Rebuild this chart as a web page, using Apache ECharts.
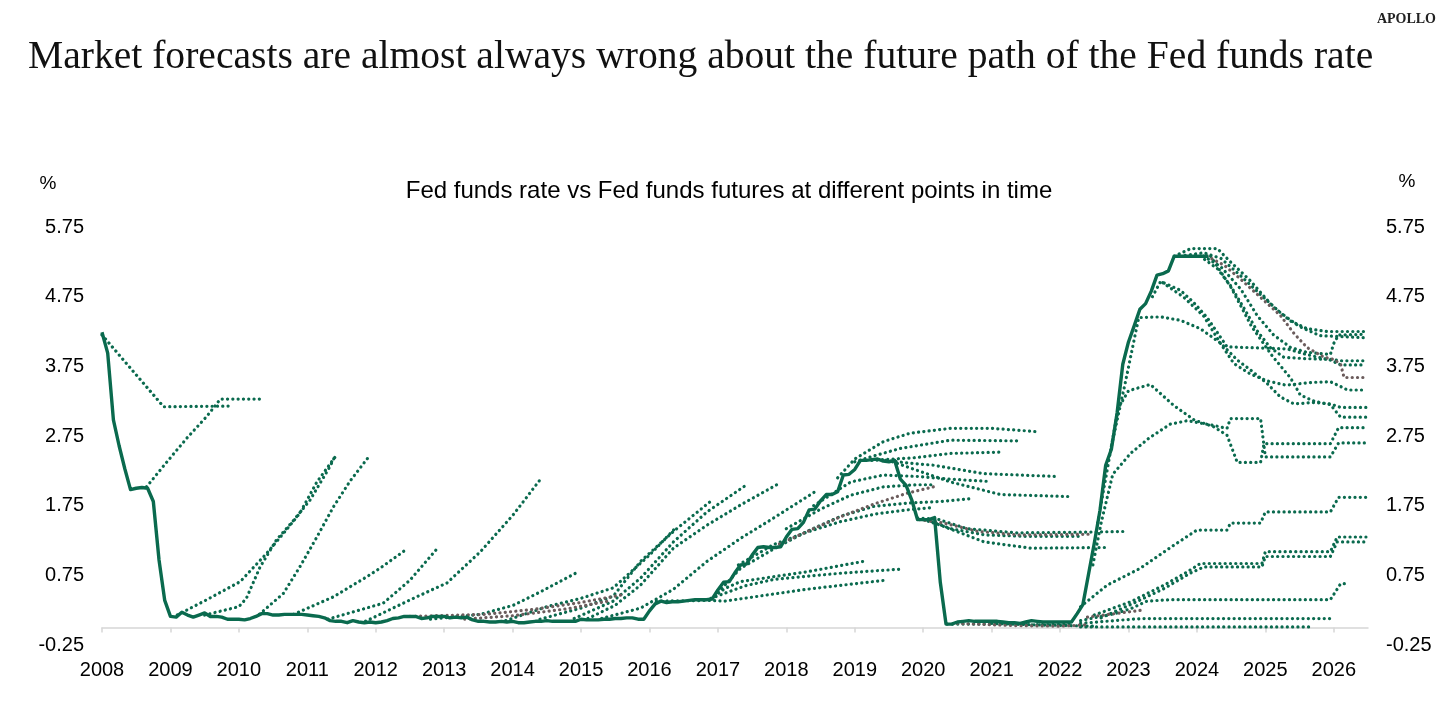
<!DOCTYPE html>
<html>
<head>
<meta charset="utf-8">
<script src="https://cdn.jsdelivr.net/npm/echarts@6/dist/echarts.min.js"></script>
<style>
html,body{margin:0;padding:0;background:#fff;}
#chart{width:1456px;height:725px;}
</style>
</head>
<body>
<div id="chart"></div>
<script>
// ---------- DATA ----------
const xTickLabels = [2008,2009,2010,2011,2012,2013,2014,2015,2016,2017,2018,2019,2020,2021,2022,2023,2024,2025,2026];
const yTickLabels = [-0.25,0.75,1.75,2.75,3.75,4.75,5.75];

// Effective Fed funds rate, monthly, first value plotted at 2008.0
const effrStartYear = 2008;
const effrMonthly = [
  4.24,
  3.94,2.98,2.61,2.28,1.98,2.00,2.01,2.00,1.81,0.97,0.39,0.16,
  0.15,0.22,0.18,0.15,0.18,0.21,0.16,0.16,0.15,0.12,0.12,0.12,
  0.11,0.13,0.16,0.20,0.20,0.18,0.18,0.19,0.19,0.19,0.19,0.18,
  0.17,0.16,0.14,0.10,0.09,0.09,0.07,0.10,0.08,0.07,0.08,0.07,
  0.08,0.10,0.13,0.14,0.16,0.16,0.16,0.13,0.14,0.16,0.16,0.16,
  0.14,0.15,0.14,0.15,0.11,0.09,0.09,0.08,0.08,0.09,0.08,0.09,
  0.07,0.07,0.08,0.09,0.09,0.10,0.09,0.09,0.09,0.09,0.09,0.12,
  0.11,0.11,0.11,0.12,0.12,0.13,0.13,0.14,0.14,0.12,0.12,0.24,
  0.34,0.38,0.36,0.37,0.37,0.38,0.39,0.40,0.40,0.40,0.41,0.54,
  0.65,0.66,0.79,0.90,0.91,1.04,1.15,1.16,1.15,1.15,1.16,1.30,
  1.41,1.42,1.51,1.69,1.70,1.82,1.91,1.91,1.95,2.19,2.20,2.27,
  2.40,2.40,2.41,2.42,2.39,2.38,2.40,2.13,2.04,1.83,1.55,1.55,
  1.55,1.58,0.65,0.05,0.05,0.08,0.09,0.10,0.09,0.09,0.09,0.09,
  0.09,0.08,0.07,0.07,0.06,0.08,0.10,0.09,0.08,0.08,0.08,0.08,
  0.08,0.08,0.20,0.33,0.77,1.21,1.68,2.33,2.56,3.08,3.78,4.10,
  4.33,4.57,4.65,4.83,5.06,5.08,5.12,5.33,5.33,5.33,5.33,5.33,
  5.33,5.33
];

// Fed funds futures curves: [year, rate]
const futures2008 = [
  [[2008.0,4.20],[2008.9,3.17],[2009.87,3.18]],
  [[2008.65,2.02],[2008.95,2.38],[2009.24,2.72],[2009.53,3.03],[2009.73,3.28],[2010.36,3.28]]
];
const futures2009to2014 = [
  [[2009.1,0.18],[2009.53,0.40],[2010.02,0.66],[2010.41,1.07],[2010.65,1.35],[2010.89,1.64],[2011.14,2.09],[2011.43,2.48]],
  [[2009.5,0.18],[2010.0,0.30],[2010.11,0.42],[2010.31,0.87],[2010.55,1.26],[2010.8,1.54],[2011.04,1.83],[2011.33,2.31],[2011.4,2.45]],
  [[2010.3,0.19],[2010.65,0.49],[2010.89,0.87],[2011.14,1.30],[2011.38,1.73],[2011.63,2.11],[2011.92,2.48]],
  [[2010.8,0.19],[2011.38,0.44],[2011.87,0.73],[2012.06,0.85],[2012.43,1.11]],
  [[2011.3,0.12],[2012.11,0.35],[2012.5,0.68],[2012.92,1.16]],
  [[2011.85,0.09],[2012.55,0.42],[2013.04,0.64],[2013.53,1.09],[2014.01,1.62],[2014.40,2.12]],
  [[2012.8,0.12],[2013.53,0.19],[2014.01,0.32],[2014.40,0.51],[2014.92,0.78]]
];
const futures2014to2018 = [
  [[2013.9,0.10],[2014.5,0.30],[2015.0,0.42],[2015.47,0.57],[2016.0,1.04],[2016.4,1.45]],
  [[2014.4,0.12],[2015.0,0.28],[2015.47,0.45],[2015.87,0.95],[2016.35,1.38],[2016.89,1.81]],
  [[2014.9,0.13],[2015.47,0.38],[2015.87,0.71],[2016.35,1.23],[2016.84,1.66],[2017.42,2.05]],
  [[2015.1,0.13],[2015.5,0.32],[2015.87,0.61],[2016.35,1.14],[2016.84,1.47],[2017.33,1.76],[2017.86,2.05]],
  [[2015.3,0.13],[2015.87,0.28],[2016.35,0.55],[2016.84,0.95],[2017.33,1.28],[2017.81,1.57],[2018.42,1.95]]
];
const futures2017to2020 = [
  [[2016.95,0.45],[2017.33,0.85],[2017.8,1.12],[2018.3,1.38],[2018.8,1.60],[2019.28,1.74],[2019.8,1.79],[2020.25,1.81],[2020.69,1.85]],
  [[2017.3,0.90],[2017.81,1.19],[2018.3,1.37],[2018.79,1.52],[2019.3,1.63],[2019.77,1.69],[2020.1,1.72]],
  [[2018.0,1.42],[2018.5,1.70],[2018.94,1.90],[2019.42,2.02],[2019.9,2.05],[2020.15,2.05]],
  [[2018.4,1.75],[2018.94,2.09],[2019.42,2.19],[2019.9,2.17],[2020.4,2.13],[2020.93,2.10]],
  [[2016.95,0.45],[2017.1,0.56],[2017.33,0.66],[2018.3,0.80],[2019.18,0.96]],
  [[2016.9,0.42],[2017.4,0.60],[2017.81,0.69],[2018.79,0.78],[2019.69,0.84]],
  [[2016.1,0.38],[2016.9,0.39],[2017.1,0.38],[2018.3,0.55],[2019.45,0.68]]
];
const futures2019to2022 = [
  [[2018.75,2.15],[2019.0,2.42],[2019.42,2.67],[2019.81,2.79],[2020.4,2.86],[2021.0,2.86],[2021.69,2.81]],
  [[2019.0,2.38],[2019.3,2.47],[2019.66,2.57],[2020.4,2.69],[2021.42,2.68]],
  [[2019.25,2.40],[2019.9,2.44],[2020.4,2.50],[2021.17,2.52]],
  [[2019.45,2.40],[2019.8,2.36],[2020.15,2.33],[2020.88,2.21],[2021.93,2.17]],
  [[2019.55,2.38],[2019.9,2.26],[2020.4,2.09],[2021.13,1.91],[2022.17,1.88]],
  [[2019.92,1.57],[2020.2,1.56],[2020.64,1.42],[2021.36,1.36],[2022.35,1.37],[2022.96,1.38]],
  [[2020.0,1.55],[2020.25,1.47],[2020.89,1.23],[2021.57,1.14],[2022.69,1.15]],
  [[2020.05,1.55],[2020.4,1.42],[2020.9,1.33],[2021.5,1.31],[2022.3,1.31]],
  [[2020.35,0.05],[2021.0,0.05],[2021.6,0.04],[2022.2,0.05]],
  [[2021.0,0.06],[2021.6,0.04],[2022.1,0.03],[2022.5,0.02]]
];
const futures2022to2026 = [
  [[2022.3,0.30],[2022.69,0.61],[2023.17,0.85],[2023.66,1.18],[2024.0,1.40],[2024.44,1.40],[2024.49,1.50],[2024.93,1.50],[2025.0,1.66],[2025.95,1.66],[2026.07,1.87],[2026.47,1.87]],
  [[2022.5,0.18],[2023.03,0.37],[2023.52,0.61],[2023.86,0.80],[2024.05,0.92],[2024.95,0.92],[2025.0,1.09],[2025.95,1.09],[2026.05,1.30],[2026.47,1.30]],
  [[2022.6,0.14],[2023.03,0.33],[2023.52,0.56],[2023.9,0.78],[2024.1,0.87],[2024.95,0.87],[2025.0,1.02],[2025.95,1.02],[2026.05,1.23],[2026.47,1.23]],
  [[2022.3,0.10],[2022.8,0.20],[2023.03,0.27],[2023.27,0.38],[2023.6,0.40],[2025.95,0.40],[2026.1,0.63],[2026.2,0.63]],
  [[2022.3,0.06],[2022.8,0.10],[2023.2,0.13],[2025.95,0.13]],
  [[2022.3,0.01],[2025.7,0.01]],
  [[2022.75,2.6],[2022.85,3.15],[2023.0,3.40],[2023.32,3.49],[2023.66,3.19],[2023.96,2.98],[2024.25,2.88],[2024.44,2.76],[2024.59,2.37],[2024.93,2.37],[2024.98,2.64],[2025.95,2.64],[2026.07,2.87],[2026.47,2.87]],
  [[2022.48,0.90],[2022.6,1.50],[2022.77,2.20],[2023.03,2.50],[2023.3,2.72],[2023.61,2.92],[2023.86,2.97],[2024.25,2.90],[2024.44,2.86],[2024.49,3.0],[2024.93,3.0],[2025.0,2.45],[2025.95,2.45],[2026.07,2.65],[2026.47,2.65]],
  [[2023.67,5.33],[2023.91,5.44],[2024.3,5.44],[2024.49,5.25],[2024.78,4.98],[2025.12,4.60],[2025.37,4.40],[2025.61,4.29],[2025.9,4.25],[2026.47,4.25]],
  [[2023.75,5.33],[2024.1,5.38],[2024.35,5.30],[2024.64,5.05],[2024.93,4.78],[2025.22,4.52],[2025.5,4.32],[2025.8,4.19],[2026.47,4.16]],
  [[2024.1,5.33],[2024.35,5.18],[2024.64,4.86],[2024.88,4.48],[2025.12,4.20],[2025.37,4.02],[2025.61,3.95],[2025.95,3.92],[2026.0,4.08],[2026.07,4.20],[2026.47,4.21]],
  [[2024.05,5.33],[2024.3,5.15],[2024.49,4.91],[2024.69,4.58],[2024.88,4.26],[2025.07,4.02],[2025.27,3.88],[2025.6,3.86],[2025.95,3.85],[2026.1,3.83],[2026.47,3.83]],
  [[2023.35,4.75],[2023.47,4.97],[2023.76,4.84],[2023.95,4.67],[2024.15,4.45],[2024.35,4.16],[2024.44,4.03],[2025.32,4.00],[2025.6,3.92],[2025.95,3.84],[2026.1,3.77],[2026.47,3.77]],
  [[2023.5,4.95],[2023.81,4.74],[2024.1,4.47],[2024.35,4.07],[2024.54,3.79],[2024.78,3.64],[2025.03,3.54],[2025.3,3.48],[2025.7,3.52],[2025.95,3.53],[2026.1,3.46],[2026.2,3.41],[2026.47,3.41]],
  [[2022.55,1.50],[2022.75,2.60],[2022.95,3.50],[2023.15,4.45],[2023.47,4.46],[2023.76,4.41],[2024.05,4.29],[2024.35,4.08],[2024.59,3.84],[2024.78,3.70],[2025.03,3.50],[2025.22,3.31],[2025.42,3.21],[2025.71,3.23],[2025.95,3.21],[2026.1,3.16],[2026.47,3.16]],
  [[2024.2,5.33],[2024.5,4.88],[2024.8,4.32],[2025.1,3.90],[2025.37,3.58],[2025.51,3.34],[2025.71,3.25],[2025.95,3.20],[2026.1,3.02],[2026.47,3.02]]
];
const grayFutures = [
  [[2012.5,0.16],[2013.6,0.19],[2014.3,0.26],[2015.0,0.36],[2015.6,0.47]],
  [[2013.3,0.12],[2014.0,0.17],[2014.8,0.27],[2015.4,0.38]],
  [[2017.9,1.20],[2018.4,1.42],[2018.79,1.59],[2019.3,1.78],[2019.77,1.93],[2020.15,2.02]],
  [[2019.95,1.55],[2020.3,1.50],[2020.8,1.38],[2021.4,1.33],[2022.45,1.34]],
  [[2020.5,0.06],[2021.3,0.03],[2022.0,0.02],[2022.4,0.04]],
  [[2022.4,0.15],[2022.8,0.20],[2023.2,0.25]],
  [[2024.15,5.33],[2024.4,5.20],[2024.64,5.00],[2024.93,4.74],[2025.22,4.48],[2025.42,4.22],[2025.61,4.02],[2025.86,3.88],[2026.0,3.85],[2026.1,3.78],[2026.15,3.59],[2026.47,3.59]]
];

// ---------- CHART ----------
const GREEN = '#0a6a4e';
const GRAY = '#6b5c5c';
const chart = echarts.init(document.getElementById('chart'), null, {renderer:'canvas'});

const dotted = (data, color) => ({
  type:'line', data, showSymbol:false, silent:true, z:2,
  lineStyle:{color, width:3.2, type:[0.1,5.2], cap:'round'}
});

const greenCurves = [].concat(futures2008, futures2009to2014, futures2014to2018,
  futures2017to2020, futures2019to2022, futures2022to2026);

const series = [];
greenCurves.forEach(c => series.push(dotted(c, GREEN)));
grayFutures.forEach(c => series.push(dotted(c, GRAY)));
series.push({
  type:'line', showSymbol:false, silent:true, z:5,
  data: effrMonthly.map((v,i)=>[effrStartYear + i/12, v]),
  lineStyle:{color:GREEN, width:3.4, join:'round'}
});

const labelFont = {color:'#000', fontSize:20, fontFamily:'"Liberation Sans", Arial, sans-serif'};

chart.setOption({
  animation:false,
  backgroundColor:'#fff',
  grid:{left:102, right:88, top:227, bottom:80},
  xAxis:{
    type:'value', min:2008, max:2026.5,
    axisLine:{show:true, onZero:true, lineStyle:{color:'#d6d6d6', width:1.5}},
    axisTick:{show:true, length:5, customValues:xTickLabels, lineStyle:{color:'#d6d6d6', width:1.5}},
    axisLabel:Object.assign({margin:15, customValues:xTickLabels, formatter:v=>String(v)}, labelFont),
    splitLine:{show:false}
  },
  yAxis:[
    {type:'value', position:'left', min:-0.25, max:5.75, interval:1,
     axisLine:{show:false}, axisTick:{show:false}, splitLine:{show:false},
     axisLabel:Object.assign({margin:18, customValues:yTickLabels, formatter:v=>v.toFixed(2)}, labelFont)},
    {type:'value', position:'right', min:-0.25, max:5.75, interval:1,
     axisLine:{show:false}, axisTick:{show:false}, splitLine:{show:false},
     axisLabel:Object.assign({margin:18, customValues:yTickLabels, formatter:v=>v.toFixed(2)}, labelFont)}
  ],
  graphic:[
    {type:'text', left:28, top:38, style:{text:'Market forecasts are almost always wrong about the future path of the Fed funds rate', fill:'#111', font:'39.6px "Liberation Serif", "DejaVu Serif", serif'}},
    {type:'text', right:20, top:12, style:{text:'APOLLO', fill:'#222', font:'600 14px "Liberation Serif", serif'}},
    {type:'text', x:729, y:191, style:{text:'Fed funds rate vs Fed funds futures at different points in time', fill:'#000', font:'24px "Liberation Sans", Arial, sans-serif', align:'center', verticalAlign:'middle'}},
    {type:'text', x:48, y:184, style:{text:'%', fill:'#000', font:'19px "Liberation Sans", Arial, sans-serif', align:'center', verticalAlign:'middle'}},
    {type:'text', x:1407, y:182, style:{text:'%', fill:'#000', font:'19px "Liberation Sans", Arial, sans-serif', align:'center', verticalAlign:'middle'}}
  ],
  series
});
</script>
</body>
</html>
